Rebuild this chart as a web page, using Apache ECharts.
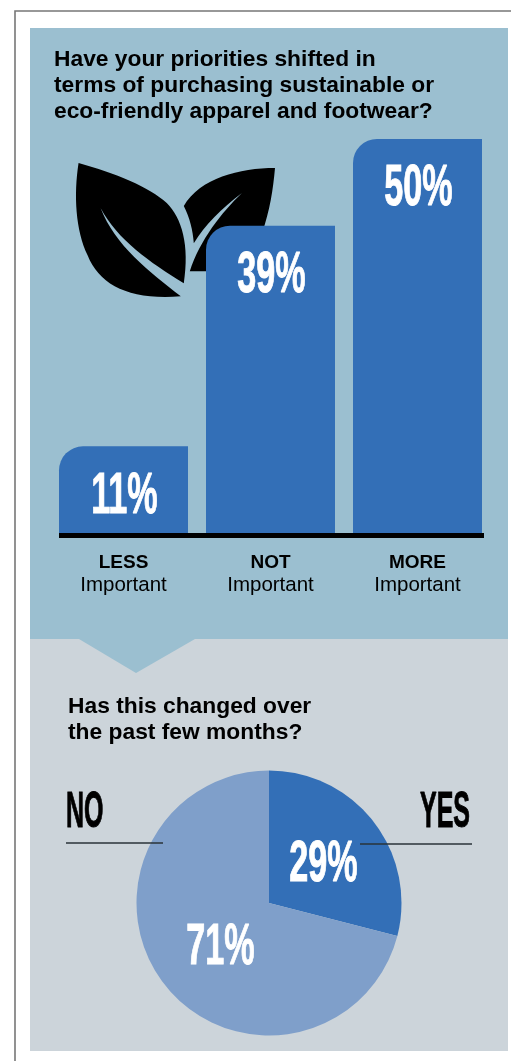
<!DOCTYPE html>
<html>
<head>
<meta charset="utf-8">
<script src="https://cdn.jsdelivr.net/npm/echarts@6/dist/echarts.min.js"></script>
<style>
html,body{margin:0;padding:0;background:#fff}
#chart{width:511px;height:1061px}
</style>
</head>
<body>
<div id="chart"></div>
<script>
// Survey answers
const questionOne = 'Have your priorities shifted in\nterms of purchasing sustainable or\neco-friendly apparel and footwear?';
const importanceLevels = ['LESS', 'NOT', 'MORE'];
const importanceSuffix = 'Important';
const importanceShares = [11, 39, 50];

const questionTwo = 'Has this changed over\nthe past few months?';
const changeAnswers = ['YES', 'NO'];
const changeShares = [29, 71];

// Palette
const SKY = '#9bbfd0', MIST = '#ccd4da', BLUE = '#336fb7', SOFT_BLUE = '#7f9fca', INK = '#000';
const CONDENSED = '"Liberation Sans Narrow","Liberation Sans",sans-serif';

// Condensed display type: squeezed horizontally, with a thin stroke to keep the weight
const bigFigure = (text, x, y, size, fill, scaleX, align) => ({
  type: 'text', x, y, scaleX, z: 20,
  style: { text, fill, stroke: fill, lineWidth: 1, align: align || 'center', verticalAlign: 'top',
           font: `bold ${size}px ${CONDENSED}` }
});

const leaves = 'M79 163C115 173 150 187 167 203C182 218 190 245 184 283' +
  'C150 262 118 240 101 208C115 245 150 272 181 296' +
  'C130 300 100 285 88 255C76 230 74 195 79 163Z' +
  'M275 168C240 168 200 178 184 206C190 218 193 230 194 243' +
  'C205 225 222 208 242 193C222 212 200 240 190 271L240 271L262 233C270 210 273 190 275 168Z';

const headingStyle = { fontFamily: 'Liberation Sans', fontWeight: 'bold', fontSize: 22.8, lineHeight: 26, color: INK };

const chart = echarts.init(document.getElementById('chart'));
chart.setOption({
  animation: false,
  title: [
    { text: questionOne, left: 49, top: 42, textStyle: headingStyle },
    { text: questionTwo, left: 63, top: 689, textStyle: headingStyle }
  ],
  grid: { left: 50, top: 139, width: 441, height: 394 },
  xAxis: {
    type: 'category', data: importanceLevels,
    axisLine: { show: false }, axisTick: { show: false },
    axisLabel: {
      margin: 18, interval: 0,
      formatter: v => `{head|${v}}\n{sub|${importanceSuffix}}`,
      rich: {
        head: { fontFamily: 'Liberation Sans', fontWeight: 'bold', fontSize: 19, lineHeight: 23, color: INK, align: 'center' },
        sub: { fontFamily: 'Liberation Sans', fontSize: 20.5, lineHeight: 23, color: INK, align: 'center' }
      }
    }
  },
  yAxis: { type: 'value', min: 0, max: 50, show: false },
  series: [
    { type: 'custom', coordinateSystem: 'none', data: [0], silent: true, z: 1,
      renderItem: () => ({
        type: 'path',
        shape: { pathData: leaves, layout: 'cover', x: 76, y: 163, width: 199, height: 134 },
        style: { fill: INK }
      }) },
    { type: 'bar', data: importanceShares, barWidth: 129, silent: true, z: 2,
      itemStyle: { color: BLUE, borderRadius: [24, 0, 0, 0] } },
    { type: 'custom', data: importanceShares, silent: true, z: 5,
      renderItem: (params, api) => {
        const p = api.coord([params.dataIndex, api.value(1)]);
        return bigFigure(api.value(1) + '%', p[0] + 1, p[1] + 22, 57, '#fff', 0.6);
      },
      encode: { x: 0, y: 1 }
    },
    { type: 'pie', center: [269, 903], radius: 132.5, startAngle: 90, clockwise: true, silent: true,
      label: { show: false }, labelLine: { show: false },
      data: changeAnswers.map((name, i) => ({
        name, value: changeShares[i],
        itemStyle: { color: i === 0 ? BLUE : SOFT_BLUE }
      })) }
  ],
  graphic: [
    { type: 'rect', z: -5, shape: { x: 30, y: 28, width: 478, height: 611 }, style: { fill: SKY } },
    { type: 'rect', z: -5, shape: { x: 30, y: 639, width: 478, height: 412 }, style: { fill: MIST } },
    { type: 'polygon', z: -4, shape: { points: [[79, 639], [195, 639], [136, 673]] }, style: { fill: SKY } },
    { type: 'polyline', z: -3, shape: { points: [[15, 1061], [15, 11], [511, 11]] },
      style: { stroke: '#777', lineWidth: 1.6, fill: 'none' } },
    { type: 'rect', z: 10, shape: { x: 59, y: 533, width: 425, height: 5 }, style: { fill: INK } },
    { type: 'line', z: 15, shape: { x1: 66, y1: 843, x2: 163, y2: 843 }, style: { stroke: '#2a3338', lineWidth: 1.4 } },
    { type: 'line', z: 15, shape: { x1: 360, y1: 844, x2: 472, y2: 844 }, style: { stroke: '#2a3338', lineWidth: 1.4 } },
    bigFigure(changeShares[0] + '%', 323.5, 837, 57, '#fff', 0.6),
    bigFigure(changeShares[1] + '%', 220.5, 920, 57, '#fff', 0.6),
    bigFigure(changeAnswers[1], 66, 788, 50, INK, 0.5, 'left'),
    bigFigure(changeAnswers[0], 470, 788, 50, INK, 0.5, 'right')
  ]
});
</script>
</body>
</html>
